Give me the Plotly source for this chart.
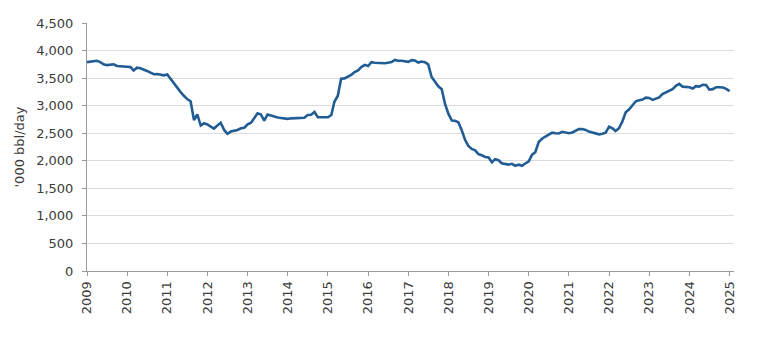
import pandas as pd
import plotly.graph_objects as go

# Monthly production, '000 bbl/day, Jan 2009 - Jan 2025
start_month = "2009-01-01"
values_2009 = [3790, 3795, 3800, 3815, 3790, 3750, 3735, 3740, 3750, 3720, 3710, 3710]
values_2010 = [3705, 3700, 3640, 3690, 3680, 3660, 3630, 3600, 3570, 3575, 3560, 3550]
values_2011 = [3565, 3480, 3420, 3330, 3250, 3180, 3120, 3080, 2740, 2840, 2640, 2680]
values_2012 = [2660, 2620, 2585, 2640, 2690, 2560, 2490, 2530, 2540, 2560, 2590, 2600]
values_2013 = [2660, 2690, 2770, 2860, 2840, 2730, 2840, 2820, 2800, 2785, 2775, 2770]
values_2014 = [2760, 2770, 2770, 2775, 2775, 2780, 2830, 2835, 2885, 2790, 2790, 2790]
values_2015 = [2790, 2830, 3070, 3180, 3490, 3495, 3520, 3560, 3610, 3640, 3700, 3740]
values_2016 = [3720, 3790, 3780, 3775, 3765, 3770, 3780, 3790, 3830, 3815, 3815, 3805]
values_2017 = [3795, 3825, 3820, 3780, 3800, 3790, 3750, 3520, 3430, 3350, 3300, 3030]
values_2018 = [2850, 2730, 2725, 2700, 2560, 2380, 2270, 2215, 2190, 2120, 2100, 2070]
values_2019 = [2060, 1975, 2030, 2010, 1955, 1935, 1930, 1945, 1910, 1930, 1910, 1950]
values_2020 = [1990, 2110, 2155, 2340, 2400, 2440, 2480, 2510, 2500, 2495, 2525, 2510]
values_2021 = [2500, 2515, 2550, 2575, 2575, 2560, 2530, 2510, 2500, 2480, 2490, 2510]
values_2022 = [2620, 2590, 2540, 2590, 2710, 2880, 2930, 3000, 3080, 3100, 3110, 3145]
values_2023 = [3140, 3105, 3120, 3150, 3210, 3240, 3265, 3300, 3360, 3395, 3345, 3340]
values_2024 = [3335, 3310, 3355, 3345, 3380, 3375, 3290, 3300, 3335, 3335, 3330, 3305]
values_2025 = [3265]

production = (values_2009 + values_2010 + values_2011 + values_2012 + values_2013
              + values_2014 + values_2015 + values_2016 + values_2017 + values_2018
              + values_2019 + values_2020 + values_2021 + values_2022 + values_2023
              + values_2024 + values_2025)
months = pd.date_range(start_month, periods=len(production), freq="MS")

year_ticks = [str(y) for y in range(2009, 2026)]
y_ticks = [0, 500, 1000, 1500, 2000, 2500, 3000, 3500, 4000, 4500]
y_tick_text = ["0", "500", "1,000", "1,500", "2,000", "2,500", "3,000", "3,500", "4,000", "4,500"]

font_family = "DejaVu Sans, Verdana, sans-serif"
text_color = "#3c3c3c"

fig = go.Figure(
    go.Scatter(
        x=months,
        y=production,
        mode="lines",
        line=dict(color="#215d94", width=2.6),
        hoverinfo="x+y",
    )
)

fig.update_layout(
    width=771,
    height=347,
    margin=dict(l=87, r=37, t=23, b=76),
    paper_bgcolor="white",
    plot_bgcolor="white",
    showlegend=False,
    font=dict(family=font_family, size=13, color=text_color),
)

fig.update_xaxes(
    type="date",
    range=["2009-01-01", "2025-02-10"],
    tickvals=[f"{y}-01-01" for y in year_ticks],
    ticktext=year_ticks,
    tickangle=-90,
    ticks="outside",
    ticklen=4,
    tickcolor="#9a9a9a",
    showline=True,
    linecolor="#9a9a9a",
    linewidth=1,
    showgrid=False,
    zeroline=False,
    tickfont=dict(size=13, color=text_color),
)

fig.update_yaxes(
    range=[0, 4500],
    tickvals=y_ticks,
    ticktext=y_tick_text,
    ticks="outside",
    ticklen=4,
    tickcolor="#9a9a9a",
    showline=True,
    linecolor="#9a9a9a",
    linewidth=1,
    showgrid=True,
    gridcolor="#dcdcdc",
    gridwidth=1.2,
    zeroline=False,
    ticklabelstandoff=6,
    tickfont=dict(size=13, color=text_color),
    title=dict(text="'000 bbl/day", font=dict(size=13, color=text_color), standoff=8),
)

fig.write_html("out.html")
